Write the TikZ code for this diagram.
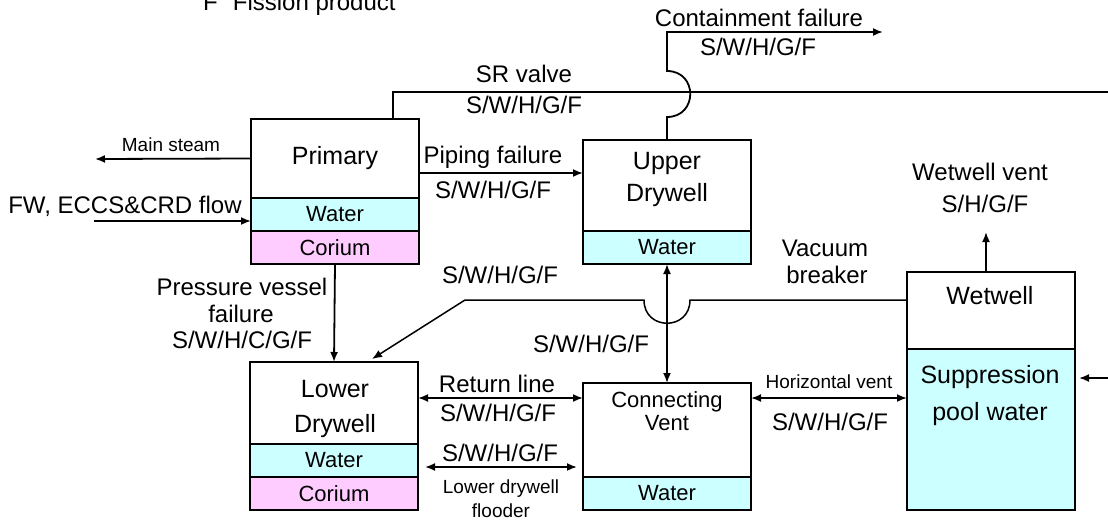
\documentclass[tikz,border=0pt]{standalone}
\usepackage{fontspec}
\setmainfont{Liberation Sans}
\usetikzlibrary{arrows.meta}
\definecolor{waterc}{HTML}{CCFFFF}
\definecolor{coriumc}{HTML}{FFCCFF}
\newcommand{\fsbox}{\fontsize{25}{30}\selectfont}
\newcommand{\fsbig}{\fontsize{24}{30}\selectfont}
\newcommand{\fsmid}{\fontsize{22}{26}\selectfont}
\newcommand{\fssmall}{\fontsize{19}{24}\selectfont}

\begin{document}
\begin{tikzpicture}[x=1pt, y=-1pt,
	box/.style={draw, line width=2.6pt, minimum width=168pt, inner sep=0pt, outer sep=0pt},
	water/.style={box, fill=waterc, minimum height=33pt, font=\fsmid},
	corium/.style={box, fill=coriumc, minimum height=33pt, font=\fsmid},
	lbl/.style={anchor=base, font=\fsbig, inner sep=0pt},
	slbl/.style={anchor=base, font=\fssmall, inner sep=0pt},
	arr/.style={-{Latex[length=10pt,width=8pt]}, line width=1.8pt},
	darr/.style={{Latex[length=10pt,width=8pt]}-{Latex[length=10pt,width=8pt]}, line width=1.8pt}]

	\useasboundingbox (0,0) rectangle (1108,522);

	%% Legend (cut at the top)
	\node[anchor=base west, font=\fsbig, inner sep=0pt] (legF) at (203,10) {F\hspace{15pt}Fission product};

	%% Primary
	\node[box, anchor=north west, minimum height=79pt, font=\fsbox] (prim) at (251,119) {Primary};
	\node[water, anchor=north] (primW) at (prim.south) {Water};
	\node[corium, anchor=north] (primC) at (primW.south) {Corium};

	%% Upper drywell
	\node[box, anchor=north west, minimum height=91pt] (udw) at (583,140) {};
	\node[water, anchor=north] (udwW) at (udw.south) {Water};
	\node[lbl, font=\fsbox] (udwT1) at (667,169) {Upper};
	\node[lbl, font=\fsbox] (udwT2) at (667,201) {Drywell};

	%% Lower drywell
	\node[box, anchor=north west, minimum height=82pt] (ldw) at (250,362) {};
	\node[water, anchor=north] (ldwW) at (ldw.south) {Water};
	\node[corium, anchor=north] (ldwC) at (ldwW.south) {Corium};
	\node[lbl, font=\fsbox] (ldwT1) at (335,397) {Lower};
	\node[lbl, font=\fsbox] (ldwT2) at (335,432) {Drywell};

	%% Connecting vent
	\node[box, anchor=north west, minimum height=94pt] (cv) at (583,383) {};
	\node[water, anchor=north] (cvW) at (cv.south) {Water};
	\node[lbl, font=\fsmid] (cvT1) at (667,407) {Connecting};
	\node[lbl, font=\fsmid] (cvT2) at (667,430) {Vent};

	%% Wetwell
	\node[box, anchor=north west, minimum height=77pt] (ww) at (907,272) {};
	\node[box, anchor=north, fill=waterc, minimum height=161pt] (pool) at (ww.south) {};
	\node[lbl, font=\fsbox] (wwT) at (990,304) {Wetwell};
	\node[lbl, font=\fsbox] (poolT1) at (990,383) {Suppression};
	\node[lbl, font=\fsbox] (poolT2) at (990,420) {pool water};

	%% Main steam and feed water
	\coordinate (steamend) at (95,159);
	\draw[arr] (prim.west) -- (steamend);
	\node[slbl] (steamT) at (171,151) {Main steam};
	\coordinate (fwstart) at (94,221);
	\draw[arr] (fwstart) -- (fwstart -| primW.west);
	\node[lbl] (fwT) at (125,213) {FW, ECCS\&CRD flow};

	%% Piping failure
	\coordinate (pipe) at (419,173);
	\draw[arr] (pipe -| prim.east) -- (pipe -| udw.west);
	\node[lbl] (pipeT1) at (493,163) {Piping failure};
	\node[lbl] (pipeT2) at (493,198) {S/W/H/G/F};

	%% SR valve
	\coordinate (srtop) at (393,92);
	\coordinate (srend) at (1108,92);
	\draw[line width=2.4pt] (srtop |- prim.north) -- (srtop) -- (srend);
	\node[lbl] (srT1) at (524,82) {SR valve};
	\node[lbl] (srT2) at (524,113) {S/W/H/G/F};

	%% Containment failure
	\coordinate (cflow) at (667,117);
	\coordinate (cfc1) at (698,117);
	\coordinate (cfc2) at (698,71);
	\coordinate (cfhigh) at (667,71);
	\coordinate (cftop) at (667,32);
	\coordinate (cfend) at (883,32);
	\draw[arr] (udw.north) -- (cflow) .. controls (cfc1) and (cfc2) .. (cfhigh) -- (cftop) -- (cfend);
	\node[lbl] (cfT1) at (759,26) {Containment failure};
	\node[lbl] (cfT2) at (758,55) {S/W/H/G/F};

	%% Vacuum breaker
	\coordinate (vb) at (907,300);
	\coordinate (vbr) at (690,300);
	\coordinate (vbc1) at (690,331);
	\coordinate (vbc2) at (644,331);
	\coordinate (vbl) at (644,300);
	\coordinate (vbk) at (465,300);
	\coordinate (vbend) at (372,359);
	\draw[arr, line width=1.5pt] (vb -| ww.west) -- (vbr) .. controls (vbc1) and (vbc2) .. (vbl) -- (vbk) -- (vbend);
	\node[lbl] (vbT1) at (825,256) {Vacuum};
	\node[lbl] (vbT2) at (827,283) {breaker};
	\node[lbl] (vbT3) at (500,283) {S/W/H/G/F};

	%% Upper drywell - connecting vent
	\draw[darr] (udwW.south) -- (cv.north);
	\node[lbl] (udcvT) at (591,352) {S/W/H/G/F};

	%% Pressure vessel failure
	\draw[arr] (primC.south) -- (ldw.north);
	\node[lbl] (pvT1) at (242,295) {Pressure vessel};
	\node[lbl] (pvT2) at (241,322) {failure};
	\node[lbl] (pvT3) at (242,348) {S/W/H/C/G/F};

	%% Return line
	\coordinate (rl) at (420,398);
	\draw[darr] (rl -| ldw.east) -- (rl -| cv.west);
	\node[lbl] (rlT1) at (497,392) {Return line};
	\node[lbl] (rlT2) at (498,421) {S/W/H/G/F};

	%% Lower drywell flooder
	\coordinate (fla) at (425,467);
	\coordinate (flb) at (577,467);
	\draw[darr] (fla) -- (flb);
	\node[lbl] (flT1) at (500,461) {S/W/H/G/F};
	\node[slbl] (flT2) at (501,493) {Lower drywell};
	\node[slbl] (flT3) at (501,517) {flooder};

	%% Horizontal vent
	\coordinate (hv) at (752,398);
	\draw[darr] (hv -| cv.east) -- (hv -| ww.west);
	\node[slbl] (hvT1) at (829,388) {Horizontal vent};
	\node[lbl] (hvT2) at (830,430) {S/W/H/G/F};

	%% Wetwell vent
	\coordinate (wwv) at (986,232);
	\draw[arr] (wwv |- ww.north) -- (wwv);
	\node[lbl] (wwvT1) at (980,180) {Wetwell vent};
	\node[lbl] (wwvT2) at (985,212) {S/H/G/F};

	%% Flow into suppression pool
	\coordinate (spa) at (1108,378);
	\coordinate (spb) at (1079,378);
	\draw[arr] (spa) -- (spb);

\end{tikzpicture}
\end{document}
